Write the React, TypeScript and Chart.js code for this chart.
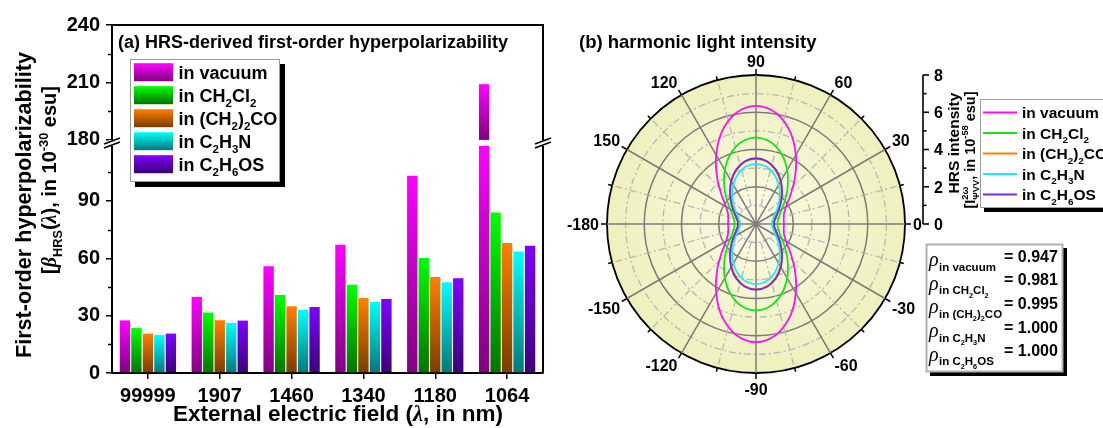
import React, { useEffect, useRef } from 'react';
import { Chart, registerables } from 'chart.js';

Chart.register(...registerables);

// ---------------- data ----------------
const wavelengths = ['99999', '1907', '1460', '1340', '1180', '1064'];
const betaVacuum = [27.5, 39.8, 55.8, 67.1, 103.2, 209.0];
const betaCH2Cl2 = [23.5, 31.6, 40.8, 46.2, 60.2, 83.9];
const betaAcetone = [20.6, 27.6, 34.9, 39.2, 50.2, 68.0];
const betaAcetonitrile = [19.9, 26.2, 33.0, 37.2, 47.4, 63.5];
const betaDMSO = [20.6, 27.4, 34.5, 38.7, 49.5, 66.5];
const betaTickValues = [0, 30, 60, 90, 180, 210, 240];
const betaMinorTickValues = [15, 45, 75, 105, 195, 225];

const seriesNames = ['in vacuum', 'in CH_2Cl_2', 'in (CH_2)_2CO', 'in C_2H_3N', 'in C_2H_6OS'];
const barColors = ['#ff00ff', '#00ff00', '#ff8000', '#00ffff', '#8000ff'];
const barDarkColors = ['#800080', '#007400', '#7a3c00', '#007878', '#3c0078'];
const lineColors = ['#ff10f0', '#14e614', '#ff8000', '#19ecf5', '#7a2ad8'];
const rhoValues = ['0.947', '0.981', '0.995', '1.000', '1.000'];

// polar angle (deg) of each radar spoke, clockwise from 0
const polarAngles = [0, -10, -20, -30, -40, -50, -60, -70, -80, -90, -100, -110, -120, -130, -140, -150, -160, -170, -180,
  170, 160, 150, 140, 130, 120, 110, 100, 90, 80, 70, 60, 50, 40, 30, 20, 10];
const intensityTicks = [0, 2, 4, 6, 8];
const intensityMinorTicks = [1, 3, 5, 7];

const iVacuum = [1.50, 1.51, 1.60, 1.86, 2.41, 3.25, 4.28, 5.31, 6.06, 6.34, 6.06, 5.31, 4.28, 3.25, 2.41, 1.86, 1.60, 1.51, 1.50,
  1.51, 1.60, 1.86, 2.41, 3.25, 4.28, 5.31, 6.06, 6.34, 6.06, 5.31, 4.28, 3.25, 2.41, 1.86, 1.60, 1.51];
const iCH2Cl2 = [1.15, 1.19, 1.33, 1.60, 2.05, 2.65, 3.35, 4.00, 4.47, 4.64, 4.47, 4.00, 3.35, 2.65, 2.05, 1.60, 1.33, 1.19, 1.15,
  1.19, 1.33, 1.60, 2.05, 2.65, 3.35, 4.00, 4.47, 4.64, 4.47, 4.00, 3.35, 2.65, 2.05, 1.60, 1.33, 1.19];
const iAcetone = [0.95, 0.99, 1.12, 1.35, 1.70, 2.14, 2.63, 3.07, 3.39, 3.50, 3.39, 3.07, 2.63, 2.14, 1.70, 1.35, 1.12, 0.99, 0.95,
  0.99, 1.12, 1.35, 1.70, 2.14, 2.63, 3.07, 3.39, 3.50, 3.39, 3.07, 2.63, 2.14, 1.70, 1.35, 1.12, 0.99];
const iAcetonitrile = [0.85, 0.89, 1.02, 1.24, 1.57, 1.99, 2.43, 2.84, 3.13, 3.23, 3.13, 2.84, 2.43, 1.99, 1.57, 1.24, 1.02, 0.89, 0.85,
  0.89, 1.02, 1.24, 1.57, 1.99, 2.43, 2.84, 3.13, 3.23, 3.13, 2.84, 2.43, 1.99, 1.57, 1.24, 1.02, 0.89];
const iDMSO = [0.97, 1.01, 1.15, 1.39, 1.74, 2.18, 2.67, 3.11, 3.42, 3.53, 3.42, 3.11, 2.67, 2.18, 1.74, 1.39, 1.15, 1.01, 0.97,
  1.01, 1.15, 1.39, 1.74, 2.18, 2.67, 3.11, 3.42, 3.53, 3.42, 3.11, 2.67, 2.18, 1.74, 1.39, 1.15, 1.01];

// ---------------- helpers ----------------
const W = 1103;
const H = 428;
const FONT = '"Liberation Sans", Arial, Helvetica, sans-serif';
const SERIF = '"Liberation Serif", "Times New Roman", serif';

const BREAK_FROM = 120;
const BREAK_TO = 180;
const BREAK_GAP = 2;
const toDisplay = (v: number) => (v >= BREAK_TO ? v - (BREAK_TO - BREAK_FROM) + BREAK_GAP : v);
const fromDisplay = (d: number) => (d > BREAK_FROM + BREAK_GAP / 2 ? d + (BREAK_TO - BREAK_FROM) - BREAK_GAP : d);
const GAP_LOW = 118.8;
const GAP_HIGH = 121.9;
const BREAK_MARK = 120.3;

type Part = { t: string; sub?: boolean; sup?: boolean; it?: boolean };

function parseRich(s: string): Part[] {
  const parts: Part[] = [];
  let buf = '';
  let it = false;
  let i = 0;
  const flush = () => {
    if (buf) parts.push({ t: buf, it });
    buf = '';
  };
  while (i < s.length) {
    const c = s[i];
    if (c === '*') {
      flush();
      it = !it;
      i++;
      continue;
    }
    if (c === '_' || c === '^') {
      flush();
      let content = '';
      if (s[i + 1] === '{') {
        const j = s.indexOf('}', i + 2);
        content = s.slice(i + 2, j);
        i = j + 1;
      } else {
        content = s[i + 1];
        i += 2;
      }
      parts.push({ t: content, sub: c === '_', sup: c === '^', it });
      continue;
    }
    buf += c;
    i++;
  }
  flush();
  return parts;
}

function drawRich(ctx: CanvasRenderingContext2D, s: string, x: number, y: number, size: number,
  align: 'left' | 'center' | 'right' = 'left', scriptScale = 0.64) {
  const parts = parseRich(s);
  const font = (p: Part) => {
    const sz = p.sub || p.sup ? size * scriptScale : size;
    return p.it ? `italic bold ${sz}px ${SERIF}` : `bold ${sz}px ${FONT}`;
  };
  const layout: { p: Part; dx: number }[] = [];
  let cx = 0;
  for (let k = 0; k < parts.length; k++) {
    const p = parts[k];
    ctx.font = font(p);
    const w = ctx.measureText(p.t).width;
    const next = parts[k + 1];
    if (p.sup && next && next.sub) {
      ctx.font = font(next);
      const w2 = ctx.measureText(next.t).width;
      layout.push({ p, dx: cx });
      layout.push({ p: next, dx: cx });
      cx += Math.max(w, w2);
      k++;
    } else {
      layout.push({ p, dx: cx });
      cx += w;
    }
  }
  const x0 = align === 'center' ? x - cx / 2 : align === 'right' ? x - cx : x;
  ctx.textAlign = 'left';
  ctx.textBaseline = 'alphabetic';
  for (const { p, dx } of layout) {
    ctx.font = font(p);
    const dy = p.sub ? size * 0.3 : p.sup ? -size * 0.42 : 0;
    ctx.fillText(p.t, x0 + dx, y + dy);
  }
  return cx;
}

const barFill = (k: number) => (c: any) => {
  const chart = c.chart;
  const base = barColors[k];
  const dark = barDarkColors[k];
  if (!chart.chartArea || c.type !== 'data') return base;
  const y = chart.scales.y;
  const v = c.raw as number;
  const top = y.getPixelForValue(v);
  const bottom = y.getPixelForValue(0);
  if (bottom - top < 1) return base;
  const g = chart.ctx.createLinearGradient(0, top, 0, bottom);
  if (v > GAP_HIGH) {
    const bt = y.getPixelForValue(GAP_HIGH);
    const bb = y.getPixelForValue(GAP_LOW);
    const f1 = (bt - top) / (bottom - top);
    const f2 = (bb - top) / (bottom - top);
    g.addColorStop(0, base);
    g.addColorStop(f1, dark);
    g.addColorStop(Math.min(1, f2), base);
    g.addColorStop(1, dark);
  } else {
    g.addColorStop(0, base);
    g.addColorStop(1, dark);
  }
  return g;
};

// ---------------- panel (a) plugin ----------------
const panelAPlugin = {
  id: 'panelA',
  afterDatasetsDraw(chart: any) {
    const ctx = chart.ctx as CanvasRenderingContext2D;
    const y = chart.scales.y;
    const meta = chart.getDatasetMeta(0);
    meta.data.forEach((bar: any, i: number) => {
      if (betaVacuum[i] >= BREAK_TO) {
        const pr = bar.getProps(['x', 'width'], true);
        const yt = y.getPixelForValue(GAP_HIGH);
        const yb = y.getPixelForValue(GAP_LOW);
        ctx.save();
        ctx.fillStyle = '#fff';
        ctx.fillRect(pr.x - pr.width / 2 - 1, yt, pr.width + 2, yb - yt);
        ctx.restore();
      }
    });
  },
  afterDraw(chart: any) {
    const ctx = chart.ctx as CanvasRenderingContext2D;
    const { left, right, top, bottom } = chart.chartArea;
    const y = chart.scales.y;
    ctx.save();
    ctx.strokeStyle = '#000';
    ctx.lineWidth = 2;
    ctx.beginPath();
    ctx.moveTo(left - 1, top);
    ctx.lineTo(right, top);
    ctx.lineTo(right, bottom);
    ctx.stroke();

    // minor ticks
    ctx.lineWidth = 1.5;
    betaMinorTickValues.forEach((v) => {
      const py = Math.round(y.getPixelForValue(toDisplay(v))) + 0.5;
      ctx.beginPath();
      ctx.moveTo(left - 4, py);
      ctx.lineTo(left, py);
      ctx.stroke();
    });

    // axis break marks
    const yb = y.getPixelForValue(BREAK_MARK);
    [left, right].forEach((x0) => {
      ctx.fillStyle = '#fff';
      ctx.fillRect(x0 - 3, yb - 3, 6, 6);
      ctx.strokeStyle = '#000';
      ctx.lineWidth = 1.6;
      ctx.beginPath();
      ctx.moveTo(x0 - 8, yb + 5);
      ctx.lineTo(x0 + 8, yb - 1);
      ctx.moveTo(x0 - 8, yb + 1);
      ctx.lineTo(x0 + 8, yb - 5);
      ctx.stroke();
    });

    // legend (a)
    const lx = 130, ly = 59, lw = 150, lh = 123;
    ctx.fillStyle = '#000';
    ctx.fillRect(lx + 5, ly + 5, lw, lh);
    ctx.fillStyle = '#fff';
    ctx.fillRect(lx, ly, lw, lh);
    ctx.strokeStyle = '#9a9a9a';
    ctx.lineWidth = 1;
    ctx.strokeRect(lx + 0.5, ly + 0.5, lw - 1, lh - 1);
    seriesNames.forEach((name, k) => {
      const yc = 72.2 + 23 * k;
      const g = ctx.createLinearGradient(0, yc - 9, 0, yc + 9);
      g.addColorStop(0, barColors[k]);
      g.addColorStop(1, barDarkColors[k]);
      ctx.fillStyle = g;
      ctx.fillRect(134, yc - 9, 39, 18);
      ctx.fillStyle = '#000';
      drawRich(ctx, name, 178.5, yc + 6.5, 18);
    });

    // titles
    ctx.fillStyle = '#000';
    drawRich(ctx, '(a) HRS-derived first-order hyperpolarizability', 118, 47.5, 18);
    drawRich(ctx, 'External electric field (*λ*, in nm)', 338, 421, 22.5, 'center');
    ctx.save();
    ctx.translate(31, 205);
    ctx.rotate(-Math.PI / 2);
    drawRich(ctx, 'First-order hyperpolarizability', 0, 0, 21.6, 'center');
    ctx.restore();
    ctx.save();
    ctx.translate(56, 180);
    ctx.rotate(-Math.PI / 2);
    drawRich(ctx, '[*β*_{HRS}(*λ*), in 10^{-30} esu]', 0, 0, 20, 'center');
    ctx.restore();
    ctx.restore();
  },
};

// ---------------- panel (b) plugin ----------------
const panelBPlugin = {
  id: 'panelB',
  beforeDraw(chart: any) {
    const ctx = chart.ctx as CanvasRenderingContext2D;
    const s = chart.scales.r;
    const R = s.drawingArea;
    const g = ctx.createRadialGradient(s.xCenter, s.yCenter, 0, s.xCenter, s.yCenter, R);
    g.addColorStop(0, '#fbfbe4');
    g.addColorStop(1, '#eef0bd');
    ctx.save();
    ctx.fillStyle = g;
    ctx.beginPath();
    ctx.arc(s.xCenter, s.yCenter, R, 0, Math.PI * 2);
    ctx.fill();
    ctx.restore();
  },
  beforeDatasetsDraw(chart: any) {
    const ctx = chart.ctx as CanvasRenderingContext2D;
    const s = chart.scales.r;
    const R = s.drawingArea;
    const r0 = s.getDistanceFromCenterForValue(1);
    ctx.save();
    ctx.strokeStyle = '#b8b8b0';
    ctx.lineWidth = 1.3;
    ctx.setLineDash([7, 3, 2, 3]);
    for (let a = 15; a < 360; a += 30) {
      const t = (a * Math.PI) / 180;
      ctx.beginPath();
      ctx.moveTo(s.xCenter + r0 * Math.cos(t), s.yCenter - r0 * Math.sin(t));
      ctx.lineTo(s.xCenter + R * Math.cos(t), s.yCenter - R * Math.sin(t));
      ctx.stroke();
    }
    ctx.restore();
  },
  afterDraw(chart: any) {
    const ctx = chart.ctx as CanvasRenderingContext2D;
    const s = chart.scales.r;
    const R = s.drawingArea;
    const cx = s.xCenter;
    const cy = s.yCenter;
    ctx.save();
    // outer ticks
    ctx.strokeStyle = '#000';
    ctx.lineWidth = 1.5;
    for (let a = 0; a < 360; a += 15) {
      const t = (a * Math.PI) / 180;
      const len = a % 30 === 0 ? 6 : 4;
      ctx.beginPath();
      ctx.moveTo(cx + R * Math.cos(t), cy - R * Math.sin(t));
      ctx.lineTo(cx + (R + len) * Math.cos(t), cy - (R + len) * Math.sin(t));
      ctx.stroke();
    }
    // angle labels
    ctx.fillStyle = '#000';
    const cap = 11.5;
    polarAngles.forEach((a, i) => {
      if (a % 30 !== 0) return;
      const p = s.getPointPosition(i, R + 8);
      let align: CanvasTextAlign = 'center';
      let by = p.y;
      if (a === 90) { align = 'center'; by = p.y; }
      else if (a === -90) { align = 'center'; by = p.y + cap + 2; }
      else if (a === 0) { align = 'left'; by = p.y + cap / 2; }
      else if (Math.abs(a) === 180) { align = 'right'; by = p.y + cap / 2; }
      else if (a > 0 && a < 90) { align = 'left'; by = p.y; }
      else if (a > 90) { align = 'right'; by = p.y; }
      else if (a < 0 && a > -90) { align = 'left'; by = p.y + cap; }
      else { align = 'right'; by = p.y + cap; }
      ctx.textAlign = align;
      ctx.textBaseline = 'alphabetic';
      ctx.font = `bold 16px ${FONT}`;
      ctx.fillText(String(a), p.x, by);
    });

    // radial intensity axis
    const ax = cx + 167;
    ctx.lineWidth = 1.6;
    ctx.beginPath();
    ctx.moveTo(ax, cy - s.getDistanceFromCenterForValue(8));
    ctx.lineTo(ax, cy);
    ctx.stroke();
    intensityTicks.forEach((v) => {
      const py = cy - s.getDistanceFromCenterForValue(v);
      ctx.beginPath();
      ctx.moveTo(ax, py);
      ctx.lineTo(ax + 6, py);
      ctx.stroke();
      ctx.textAlign = 'left';
      ctx.font = `bold 16px ${FONT}`;
      ctx.fillText(String(v), ax + 11, py + 5.8);
    });
    intensityMinorTicks.forEach((v) => {
      const py = cy - s.getDistanceFromCenterForValue(v);
      ctx.beginPath();
      ctx.moveTo(ax, py);
      ctx.lineTo(ax + 3.5, py);
      ctx.stroke();
    });

    // titles
    drawRich(ctx, '(b) harmonic light intensity', 579, 47.5, 18.5);
    ctx.save();
    ctx.translate(959, 143);
    ctx.rotate(-Math.PI / 2);
    drawRich(ctx, 'HRS intensity', 0, 0, 15.5, 'center');
    ctx.restore();
    ctx.save();
    ctx.translate(974.5, 150);
    ctx.rotate(-Math.PI / 2);
    drawRich(ctx, '[I^{2ω}_{ΨVV}, in 10^{-58} esu]', 0, 0, 14.5, 'center');
    ctx.restore();

    // legend (b)
    const bx = 980, byTop = 99, bw = 140, bh = 109;
    ctx.fillStyle = '#000';
    ctx.fillRect(bx + 4, byTop + 4, bw, bh);
    ctx.fillStyle = '#fff';
    ctx.fillRect(bx, byTop, bw, bh);
    ctx.strokeStyle = '#a0a0a0';
    ctx.lineWidth = 1;
    ctx.strokeRect(bx + 0.5, byTop + 0.5, bw, bh - 1);
    seriesNames.forEach((name, k) => {
      const yc = 112.5 + 20.5 * k;
      ctx.strokeStyle = lineColors[k];
      ctx.lineWidth = 2;
      ctx.beginPath();
      ctx.moveTo(983, yc);
      ctx.lineTo(1017, yc);
      ctx.stroke();
      ctx.fillStyle = '#000';
      drawRich(ctx, name, 1022, yc + 5.5, 15.5);
    });

    // rho box
    const rx = 926, ry = 244, rw = 137, rh = 128;
    ctx.fillStyle = '#000';
    ctx.fillRect(rx + 4, ry + 4, rw, rh);
    ctx.fillStyle = '#fff';
    ctx.fillRect(rx, ry, rw, rh);
    ctx.strokeStyle = '#b0b0b0';
    ctx.strokeRect(rx + 0.5, ry + 0.5, rw - 1, rh - 1);
    seriesNames.forEach((name, k) => {
      const yb = 266 + 23.7 * k;
      ctx.fillStyle = '#000';
      ctx.font = `italic 20px ${SERIF}`;
      ctx.textAlign = 'left';
      ctx.fillText('ρ', 929, yb);
      drawRich(ctx, name, 939, yb + 4.5, 11.5);
      drawRich(ctx, '= ' + rhoValues[k], 1004, yb - 4.5, 16);
    });
    ctx.restore();
  },
};

// ---------------- component ----------------
export default function App() {
  const refA = useRef<HTMLCanvasElement>(null);
  const refB = useRef<HTMLCanvasElement>(null);

  useEffect(() => {
    Chart.defaults.font.family = FONT;
    const betaSeries = [betaVacuum, betaCH2Cl2, betaAcetone, betaAcetonitrile, betaDMSO];
    const chartA = new Chart(refA.current as HTMLCanvasElement, {
      type: 'bar',
      data: {
        labels: wavelengths,
        datasets: betaSeries.map((vals, k) => ({
          label: seriesNames[k],
          data: vals.map(toDisplay),
          backgroundColor: barFill(k),
          borderWidth: 0,
          categoryPercentage: 0.8,
          barPercentage: 0.9,
        })),
      },
      options: {
        responsive: false,
        animation: false,
        devicePixelRatio: 1,
        events: [],
        layout: { padding: { left: 0, right: 560, top: 25, bottom: 15 } },
        plugins: { legend: { display: false }, tooltip: { enabled: false }, title: { display: false } },
        scales: {
          x: {
            type: 'category',
            afterFit: (sc: any) => { sc.height = 40; },
            grid: { offset: false, drawOnChartArea: false, drawTicks: true, tickLength: 6, color: '#000', lineWidth: 1.5 },
            border: { color: '#000', width: 2 },
            ticks: { color: '#000', font: { family: FONT, size: 20, weight: 'bold' }, padding: 5, maxRotation: 0 },
          },
          y: {
            min: 0,
            max: toDisplay(240),
            afterFit: (sc: any) => { sc.width = 112; },
            afterBuildTicks: (sc: any) => { sc.ticks = betaTickValues.map((v) => ({ value: toDisplay(v) })); },
            grid: { drawOnChartArea: false, drawTicks: true, tickLength: 6, color: '#000', lineWidth: 1.5 },
            border: { color: '#000', width: 2 },
            ticks: {
              color: '#000',
              font: { family: FONT, size: 20, weight: 'bold' },
              padding: 6,
              callback: (v: any) => String(Math.round(fromDisplay(Number(v)))),
            },
          },
        },
      } as any,
      plugins: [panelAPlugin],
    });

    const intensitySeries = [iVacuum, iCH2Cl2, iAcetone, iAcetonitrile, iDMSO];
    const chartB = new Chart(refB.current as HTMLCanvasElement, {
      type: 'radar',
      data: {
        labels: polarAngles.map(String),
        datasets: intensitySeries.map((vals, k) => ({
          label: seriesNames[k],
          data: vals,
          borderColor: lineColors[k],
          backgroundColor: 'rgba(0,0,0,0)',
          borderWidth: 1.8,
          fill: false,
          pointRadius: 0,
          tension: 0.35,
          order: 5 - k,
        })),
      },
      options: {
        responsive: false,
        animation: false,
        devicePixelRatio: 1,
        events: [],
        layout: { padding: { left: 607, top: 75, right: 198, bottom: 55 } },
        plugins: { legend: { display: false }, tooltip: { enabled: false }, title: { display: false } },
        scales: {
          r: {
            min: 0,
            max: 8,
            startAngle: 90,
            ticks: { display: false, stepSize: 1 },
            pointLabels: { display: false },
            grid: {
              circular: true,
              color: (c: any) => (c.index === 8 ? '#000' : c.index % 2 === 0 ? '#7c7c78' : '#b8b8b0'),
              lineWidth: (c: any) => (c.index === 8 ? 1.8 : c.index % 2 === 0 ? 1.5 : 1.3),
            },
            border: { dash: (c: any) => (c.index % 2 === 1 ? [7, 3, 2, 3] : []) },
            angleLines: {
              color: '#7c7c78',
              lineWidth: (c: any) => (c.index % 3 === 0 ? 1.5 : 0),
            },
          },
        },
      } as any,
      plugins: [panelBPlugin],
    });

    return () => {
      chartA.destroy();
      chartB.destroy();
    };
  }, []);

  return (
    <div style={{ position: 'absolute', left: 0, top: 0, width: W, height: H, background: '#fff', overflow: 'hidden' }}>
      <canvas ref={refA} width={W} height={H} style={{ position: 'absolute', left: 0, top: 0, width: W, height: H }} />
      <canvas ref={refB} width={W} height={H} style={{ position: 'absolute', left: 0, top: 0, width: W, height: H }} />
    </div>
  );
}
